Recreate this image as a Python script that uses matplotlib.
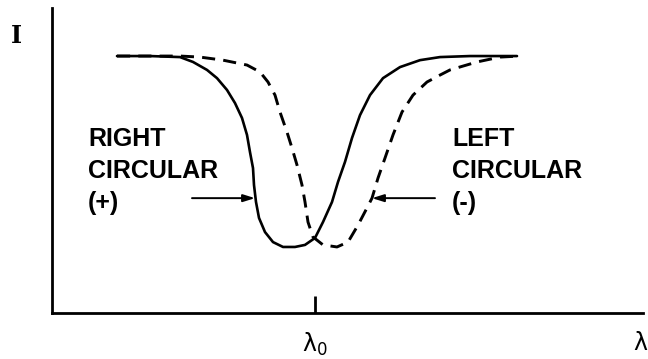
import numpy as np
import matplotlib
matplotlib.use("Agg")
import matplotlib.pyplot as plt

# profiles: wavelength offset from lambda_0, intensity (plateau = 1)
dl_right = [-1.98, -1.65, -1.35, -1.22, -1.08, -0.98, -0.88, -0.80, -0.73, -0.68, -0.65, -0.62,
            -0.61, -0.59, -0.56, -0.50, -0.42, -0.32, -0.20, -0.10, 0.00, 0.08, 0.17, 0.23,
            0.30, 0.37, 0.45, 0.55, 0.68, 0.85, 1.05, 1.25, 1.55, 2.02]
I_right = [1.00, 1.00, 0.996, 0.977, 0.946, 0.914, 0.868, 0.817, 0.759, 0.693, 0.626, 0.564,
           0.498, 0.432, 0.370, 0.315, 0.276, 0.257, 0.257, 0.265, 0.292, 0.354, 0.432, 0.510,
           0.588, 0.681, 0.770, 0.848, 0.914, 0.957, 0.984, 0.996, 1.00, 1.00]

dl_left = [-1.98, -1.35, -1.15, -0.92, -0.68, -0.55, -0.47, -0.40, -0.35, -0.28, -0.23, -0.18,
           -0.13, -0.10, -0.07, -0.02, 0.08, 0.22, 0.33, 0.43, 0.52, 0.57, 0.63, 0.70, 0.78,
           0.87, 0.98, 1.12, 1.25, 1.35, 1.62, 1.85, 2.05]
I_left = [1.00, 1.00, 0.996, 0.984, 0.965, 0.938, 0.899, 0.848, 0.782, 0.704, 0.642, 0.576,
          0.498, 0.432, 0.354, 0.296, 0.265, 0.257, 0.276, 0.342, 0.409, 0.447, 0.525, 0.603,
          0.693, 0.782, 0.848, 0.899, 0.926, 0.946, 0.977, 0.996, 1.00]

# arrows pointing at each profile (tail, head, height)
arrow_right = (-1.23, -0.60, 0.447)
arrow_left = (1.20, 0.57, 0.447)

W, H = 648, 359
fig = plt.figure(figsize=(W / 100, H / 100), dpi=100)
ax = fig.add_axes([52 / W, (H - 313) / H, (643 - 52) / W, (313 - 8) / H])

ax.plot(dl_right, I_right, color='black', lw=1.9, solid_joinstyle='round',
        solid_capstyle='round')
ax.plot(dl_left, I_left, color='black', lw=2.1, dashes=(4.5, 2.8),
        dash_joinstyle='round')

ax.set_xlim(-2.63, 3.28)
ax.set_ylim(0, 1.187)
for s in ['top', 'right']:
    ax.spines[s].set_visible(False)
for s in ['left', 'bottom']:
    ax.spines[s].set_linewidth(2)
ax.set_yticks([])
ax.set_xticks([0])
ax.set_xticklabels(['λ$_0$'], fontsize=17, family='DejaVu Sans')
ax.tick_params(axis='x', direction='in', length=12, width=2, pad=13)

for tail, head, y in [arrow_right, arrow_left]:
    ax.annotate('', xy=(head, y), xytext=(tail, y),
                arrowprops=dict(arrowstyle='-|>,head_length=0.7,head_width=0.22',
                                color='black', lw=1.4, shrinkA=0, shrinkB=0))

font = 'Liberation Sans'
fig.text(88 / W, 1 - 127 / H, 'RIGHT\nCIRCULAR\n(+)', fontsize=18, family=font,
         weight='bold', va='top', ha='left', linespacing=1.42)
fig.text(452 / W, 1 - 127 / H, 'LEFT\nCIRCULAR\n(-)', fontsize=18, family=font,
         weight='bold', va='top', ha='left', linespacing=1.42)
fig.text(11 / W, 1 - 36 / H, 'I', fontsize=17, family='DejaVu Serif', weight='bold',
         va='center', ha='left')
fig.text(640 / W, 1 - 343 / H, 'λ', fontsize=17, family='DejaVu Sans',
         va='center', ha='center')

fig.savefig('out.png', dpi=100)
